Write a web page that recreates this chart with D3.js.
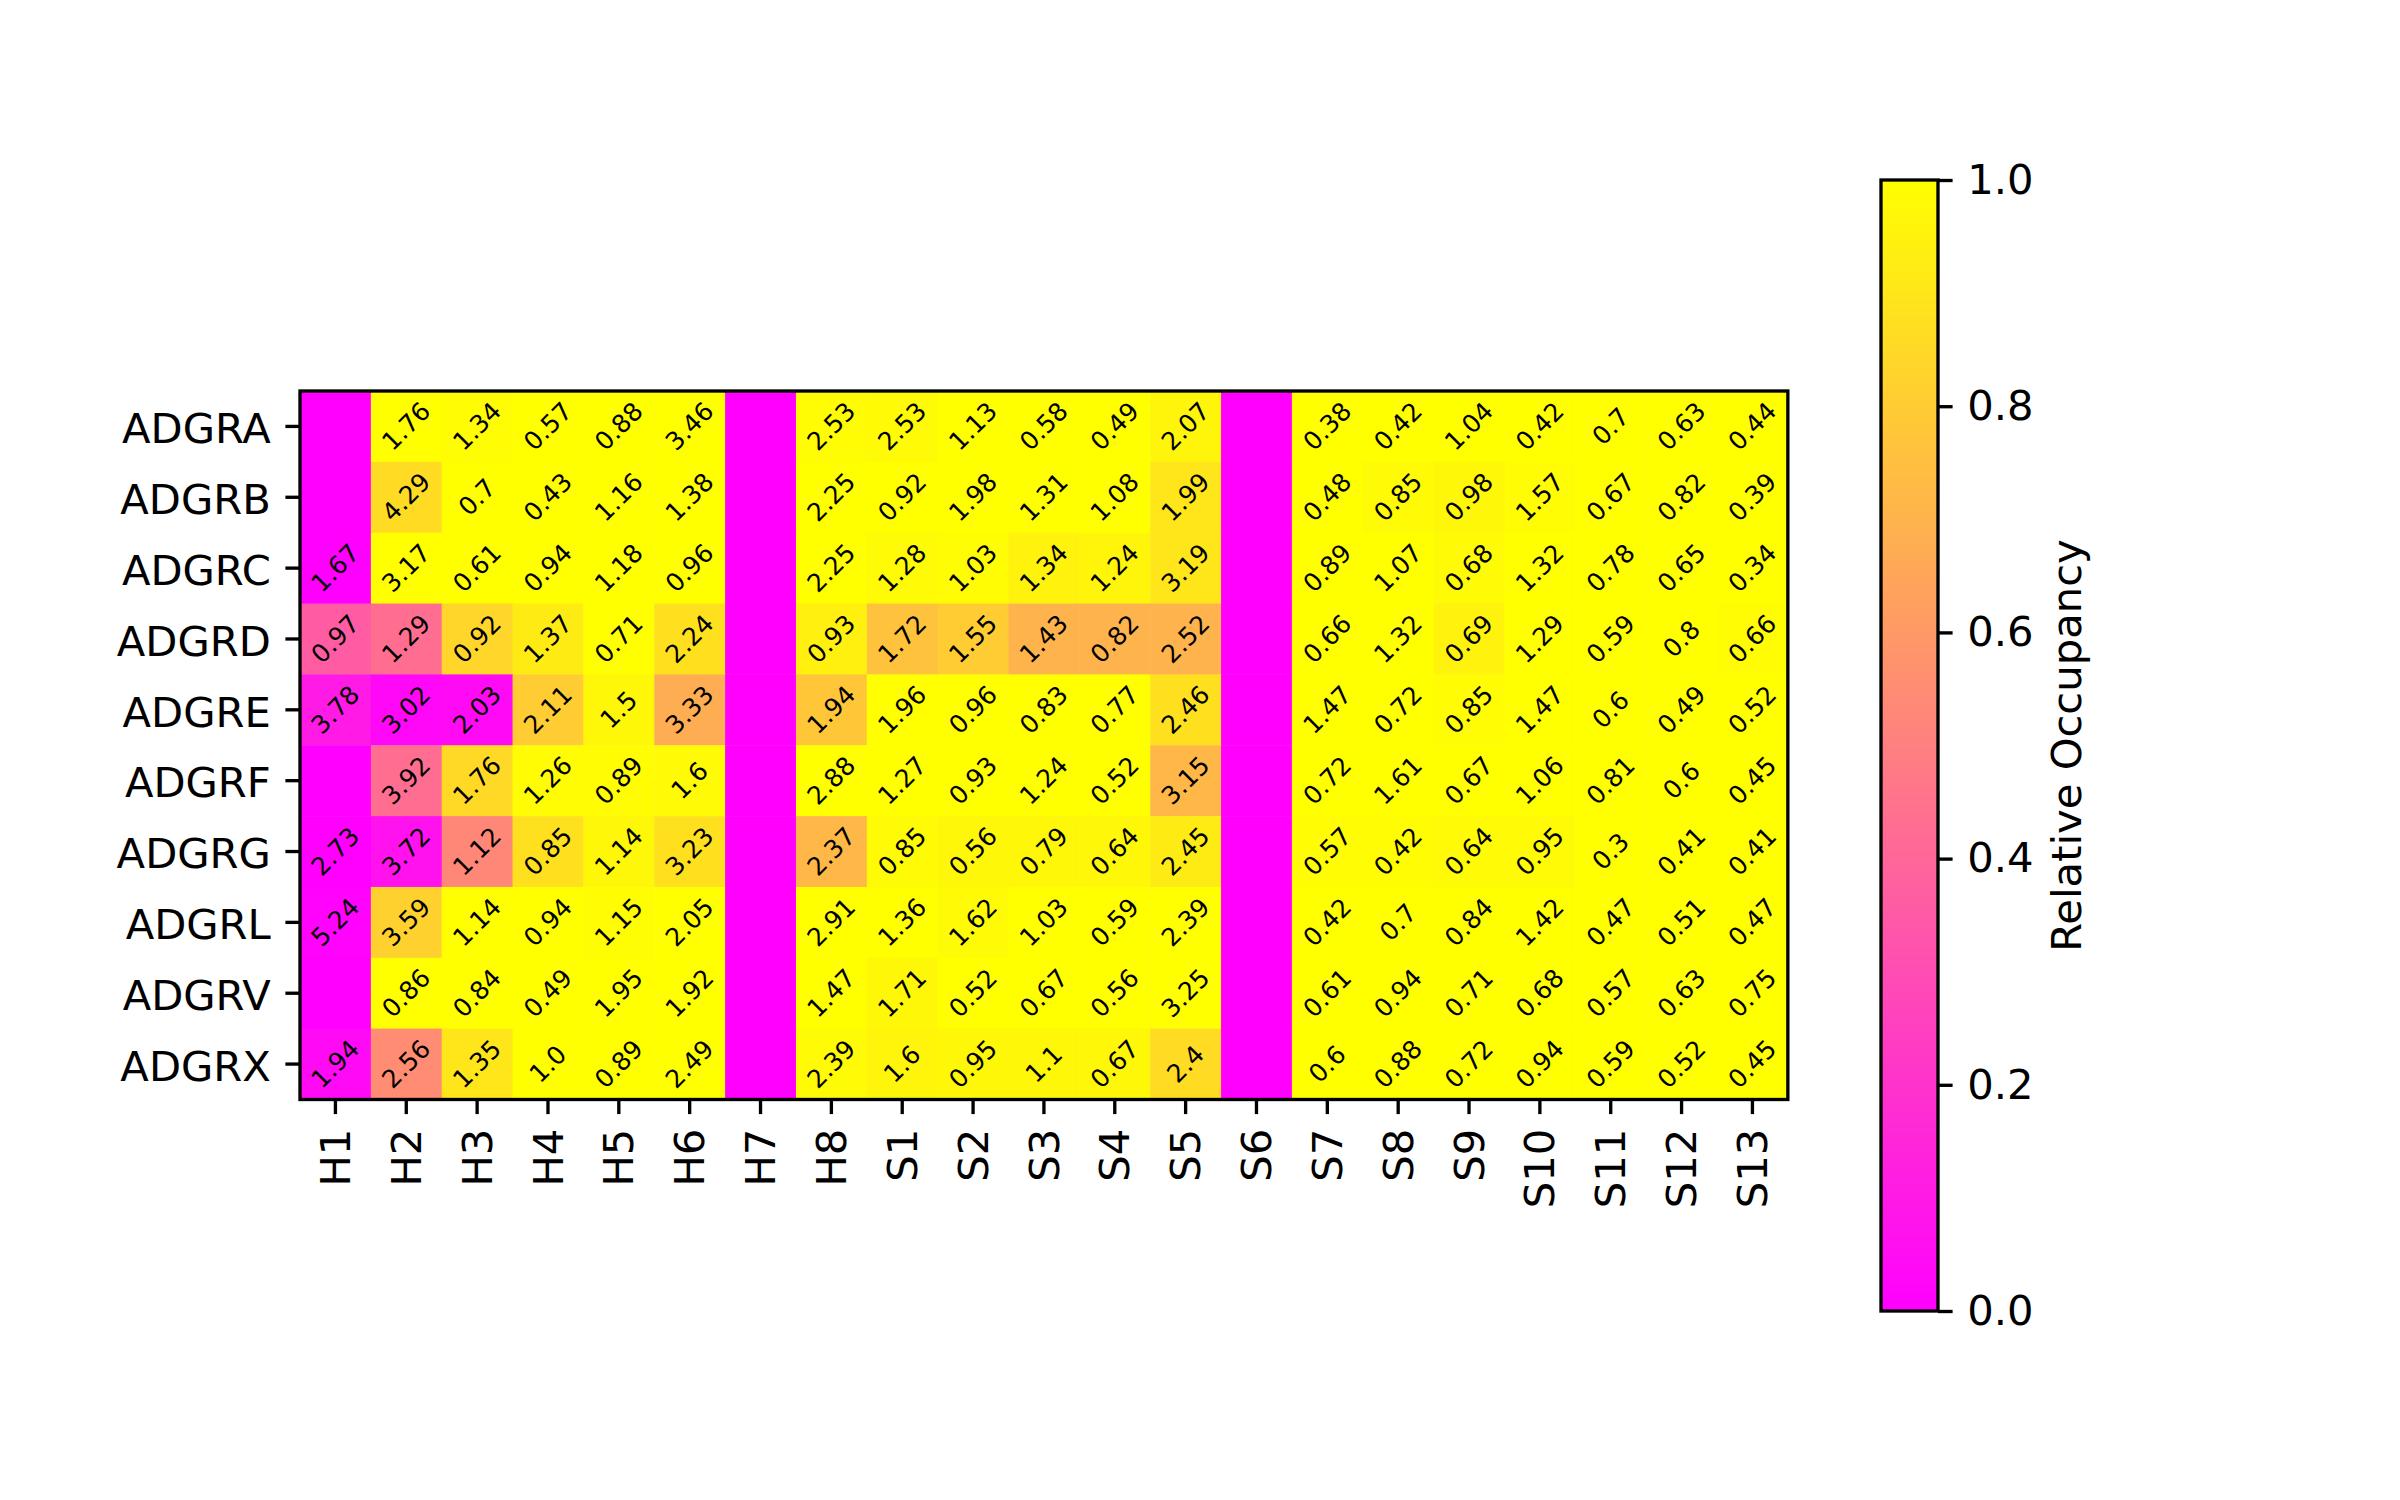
<!DOCTYPE html>
<html>
<head>
<meta charset="utf-8">
<script src="https://cdn.jsdelivr.net/npm/d3@7"></script>
<style>
  html, body { margin: 0; padding: 0; background: #fff; }
  text { font-family: "DejaVu Sans", sans-serif; }
</style>
</head>
<body>
<svg id="chart" width="2400" height="1500"></svg>
<script>
// ---------- data ----------
const rowLabels = ["ADGRA","ADGRB","ADGRC","ADGRD","ADGRE","ADGRF","ADGRG","ADGRL","ADGRV","ADGRX"];
const colLabels = ["H1","H2","H3","H4","H5","H6","H7","H8","S1","S2","S3","S4","S5","S6","S7","S8","S9","S10","S11","S12","S13"];

// relative occupancy (colour value) per row, per column
const occADGRA = [0,1,0.99,1,1,1,0,0.99,0.98,1,1,1,0.96,0,1,1,1,1,1,1,1];
const occADGRB = [0,0.86,1,1,1,1,0,1,1,1,1,1,0.9,0,1,0.98,0.97,0.99,1,1,1];
const occADGRC = [0,1,1,1,1,1,0,1,0.98,0.99,0.95,0.96,0.9,0,1,1,0.98,1,1,1,1];
const occADGRD = [0.36,0.43,0.84,0.92,1,0.88,0,0.94,0.76,0.8,0.7,0.7,0.7,0,1,1,0.95,1,1,1,0.99];
const occADGRE = [0.1,0.03,0.04,0.8,0.97,0.68,0,0.78,1,1,1,1,0.88,0,1,1,0.99,1,1,1,1];
const occADGRF = [0,0.43,0.85,0.99,0.99,0.98,0,1,1,1,1,1,0.72,0,1,1,1,1,1,1,1];
const occADGRG = [0,0.07,0.53,0.88,0.97,0.88,0,0.72,0.98,0.97,0.97,0.97,0.92,0,0.99,0.99,0.98,0.98,1,1,1];
const occADGRL = [0.01,0.82,1,1,0.99,1,0,1,1,0.98,1,1,1,0,1,1,1,1,1,1,1];
const occADGRV = [0,1,1,1,1,1,0,1,0.97,1,1,1,1,0,1,1,1,1,1,1,1];
const occADGRX = [0.04,0.55,0.9,1,1,1,0,0.98,0.96,0.97,0.97,0.97,0.86,0,1,1,1,1,1,1,1];

// annotation text per row (null = no text)
const annADGRA = [null,"1.76","1.34","0.57","0.88","3.46",null,"2.53","2.53","1.13","0.58","0.49","2.07",null,"0.38","0.42","1.04","0.42","0.7","0.63","0.44"];
const annADGRB = [null,"4.29","0.7","0.43","1.16","1.38",null,"2.25","0.92","1.98","1.31","1.08","1.99",null,"0.48","0.85","0.98","1.57","0.67","0.82","0.39"];
const annADGRC = ["1.67","3.17","0.61","0.94","1.18","0.96",null,"2.25","1.28","1.03","1.34","1.24","3.19",null,"0.89","1.07","0.68","1.32","0.78","0.65","0.34"];
const annADGRD = ["0.97","1.29","0.92","1.37","0.71","2.24",null,"0.93","1.72","1.55","1.43","0.82","2.52",null,"0.66","1.32","0.69","1.29","0.59","0.8","0.66"];
const annADGRE = ["3.78","3.02","2.03","2.11","1.5","3.33",null,"1.94","1.96","0.96","0.83","0.77","2.46",null,"1.47","0.72","0.85","1.47","0.6","0.49","0.52"];
const annADGRF = [null,"3.92","1.76","1.26","0.89","1.6",null,"2.88","1.27","0.93","1.24","0.52","3.15",null,"0.72","1.61","0.67","1.06","0.81","0.6","0.45"];
const annADGRG = ["2.73","3.72","1.12","0.85","1.14","3.23",null,"2.37","0.85","0.56","0.79","0.64","2.45",null,"0.57","0.42","0.64","0.95","0.3","0.41","0.41"];
const annADGRL = ["5.24","3.59","1.14","0.94","1.15","2.05",null,"2.91","1.36","1.62","1.03","0.59","2.39",null,"0.42","0.7","0.84","1.42","0.47","0.51","0.47"];
const annADGRV = [null,"0.86","0.84","0.49","1.95","1.92",null,"1.47","1.71","0.52","0.67","0.56","3.25",null,"0.61","0.94","0.71","0.68","0.57","0.63","0.75"];
const annADGRX = ["1.94","2.56","1.35","1.0","0.89","2.49",null,"2.39","1.6","0.95","1.1","0.67","2.4",null,"0.6","0.88","0.72","0.94","0.59","0.52","0.45"];

const colorbarTicks = [0, 0.2, 0.4, 0.6, 0.8, 1.0];
const colorbarLabel = "Relative Occupancy";

const occRows = [occADGRA,occADGRB,occADGRC,occADGRD,occADGRE,occADGRF,occADGRG,occADGRL,occADGRV,occADGRX];
const annRows = [annADGRA,annADGRB,annADGRC,annADGRD,annADGRE,annADGRF,annADGRG,annADGRL,annADGRV,annADGRX];

// ---------- layout ----------
const svg = d3.select("#chart");
svg.append("rect").attr("width",2400).attr("height",1500).attr("fill","#fff");

const axL = 300, axT = 391, cell = 70.85;
const axR = axL + cell * colLabels.length;
const axB = axT + cell * rowLabels.length;
const fs = 41.7, annFs = 25, lw = 3.33, tickLen = 14.6, pad = 14.6;

const x = d3.scaleBand().domain(colLabels).range([axL, axR]).padding(0);
const y = d3.scaleBand().domain(rowLabels).range([axT, axB]).padding(0);
// matplotlib "spring": r=1, g=v, b=1-v
const color = d3.scaleLinear().domain([0,1]).range(["#ff00ff","#ffff00"]).interpolate(d3.interpolateRgb).clamp(true);

const cells = [];
rowLabels.forEach((r, i) => colLabels.forEach((c, j) => {
  cells.push({ row: r, col: c, v: occRows[i][j], t: annRows[i][j] });
}));

svg.append("g").selectAll("rect").data(cells).join("rect")
  .attr("x", d => x(d.col)).attr("y", d => y(d.row))
  .attr("width", x.bandwidth() + 0.5).attr("height", y.bandwidth() + 0.5)
  .attr("fill", d => color(d.v));

svg.append("g").selectAll("text").data(cells.filter(d => d.t !== null)).join("text")
  .attr("transform", d => `translate(${x(d.col) + x.bandwidth()/2},${y(d.row) + y.bandwidth()/2}) rotate(-45)`)
  .attr("text-anchor","middle").attr("dominant-baseline","central")
  .attr("font-size", annFs).attr("fill","#000")
  .text(d => d.t);

// frame
svg.append("rect").attr("x",axL).attr("y",axT).attr("width",axR-axL).attr("height",axB-axT)
  .attr("fill","none").attr("stroke","#000").attr("stroke-width",lw);

// y axis
const yAxis = d3.axisLeft(y).tickSize(tickLen).tickPadding(pad);
const gy = svg.append("g").attr("transform",`translate(${axL},0)`).call(yAxis);
gy.select(".domain").remove();
gy.selectAll(".tick line").attr("stroke","#000").attr("stroke-width",lw);
gy.selectAll(".tick text").attr("font-size",fs).attr("font-family","DejaVu Sans").attr("fill","#000")
  .attr("dy","0.4em");

// x axis
const xAxis = d3.axisBottom(x).tickSize(tickLen).tickPadding(pad);
const gx = svg.append("g").attr("transform",`translate(0,${axB})`).call(xAxis);
gx.select(".domain").remove();
gx.selectAll(".tick line").attr("stroke","#000").attr("stroke-width",lw);
gx.selectAll(".tick text")
  .attr("font-size",fs).attr("font-family","DejaVu Sans").attr("fill","#000")
  .attr("transform",`translate(0,${tickLen+pad}) rotate(-90)`)
  .attr("x",0).attr("y",0).attr("dy","0.35em")
  .attr("text-anchor","end");

// ---------- colorbar ----------
const cbL = 1881, cbR = 1938, cbT = 180, cbB = 1311;
const cy = d3.scaleLinear().domain([0,1]).range([cbB, cbT]);
const defs = svg.append("defs");
const grad = defs.append("linearGradient").attr("id","cbgrad")
  .attr("x1","0").attr("y1","1").attr("x2","0").attr("y2","0");
d3.range(0, 1.0001, 0.1).forEach(t => {
  grad.append("stop").attr("offset", t).attr("stop-color", color(t));
});
svg.append("rect").attr("x",cbL).attr("y",cbT).attr("width",cbR-cbL).attr("height",cbB-cbT)
  .attr("fill","url(#cbgrad)").attr("stroke","#000").attr("stroke-width",lw);

const cAxis = d3.axisRight(cy).tickValues(colorbarTicks).tickFormat(d3.format(".1f")).tickSize(tickLen).tickPadding(pad);
const gc = svg.append("g").attr("transform",`translate(${cbR},0)`).call(cAxis);
gc.select(".domain").remove();
gc.selectAll(".tick line").attr("stroke","#000").attr("stroke-width",lw);
gc.selectAll(".tick text").attr("font-size",fs).attr("font-family","DejaVu Sans").attr("fill","#000");

svg.append("text")
  .attr("transform",`translate(2066,${(cbT+cbB)/2}) rotate(-90)`)
  .attr("text-anchor","middle").attr("dominant-baseline","central")
  .attr("font-size",fs).attr("fill","#000")
  .text(colorbarLabel);
</script>
</body>
</html>
